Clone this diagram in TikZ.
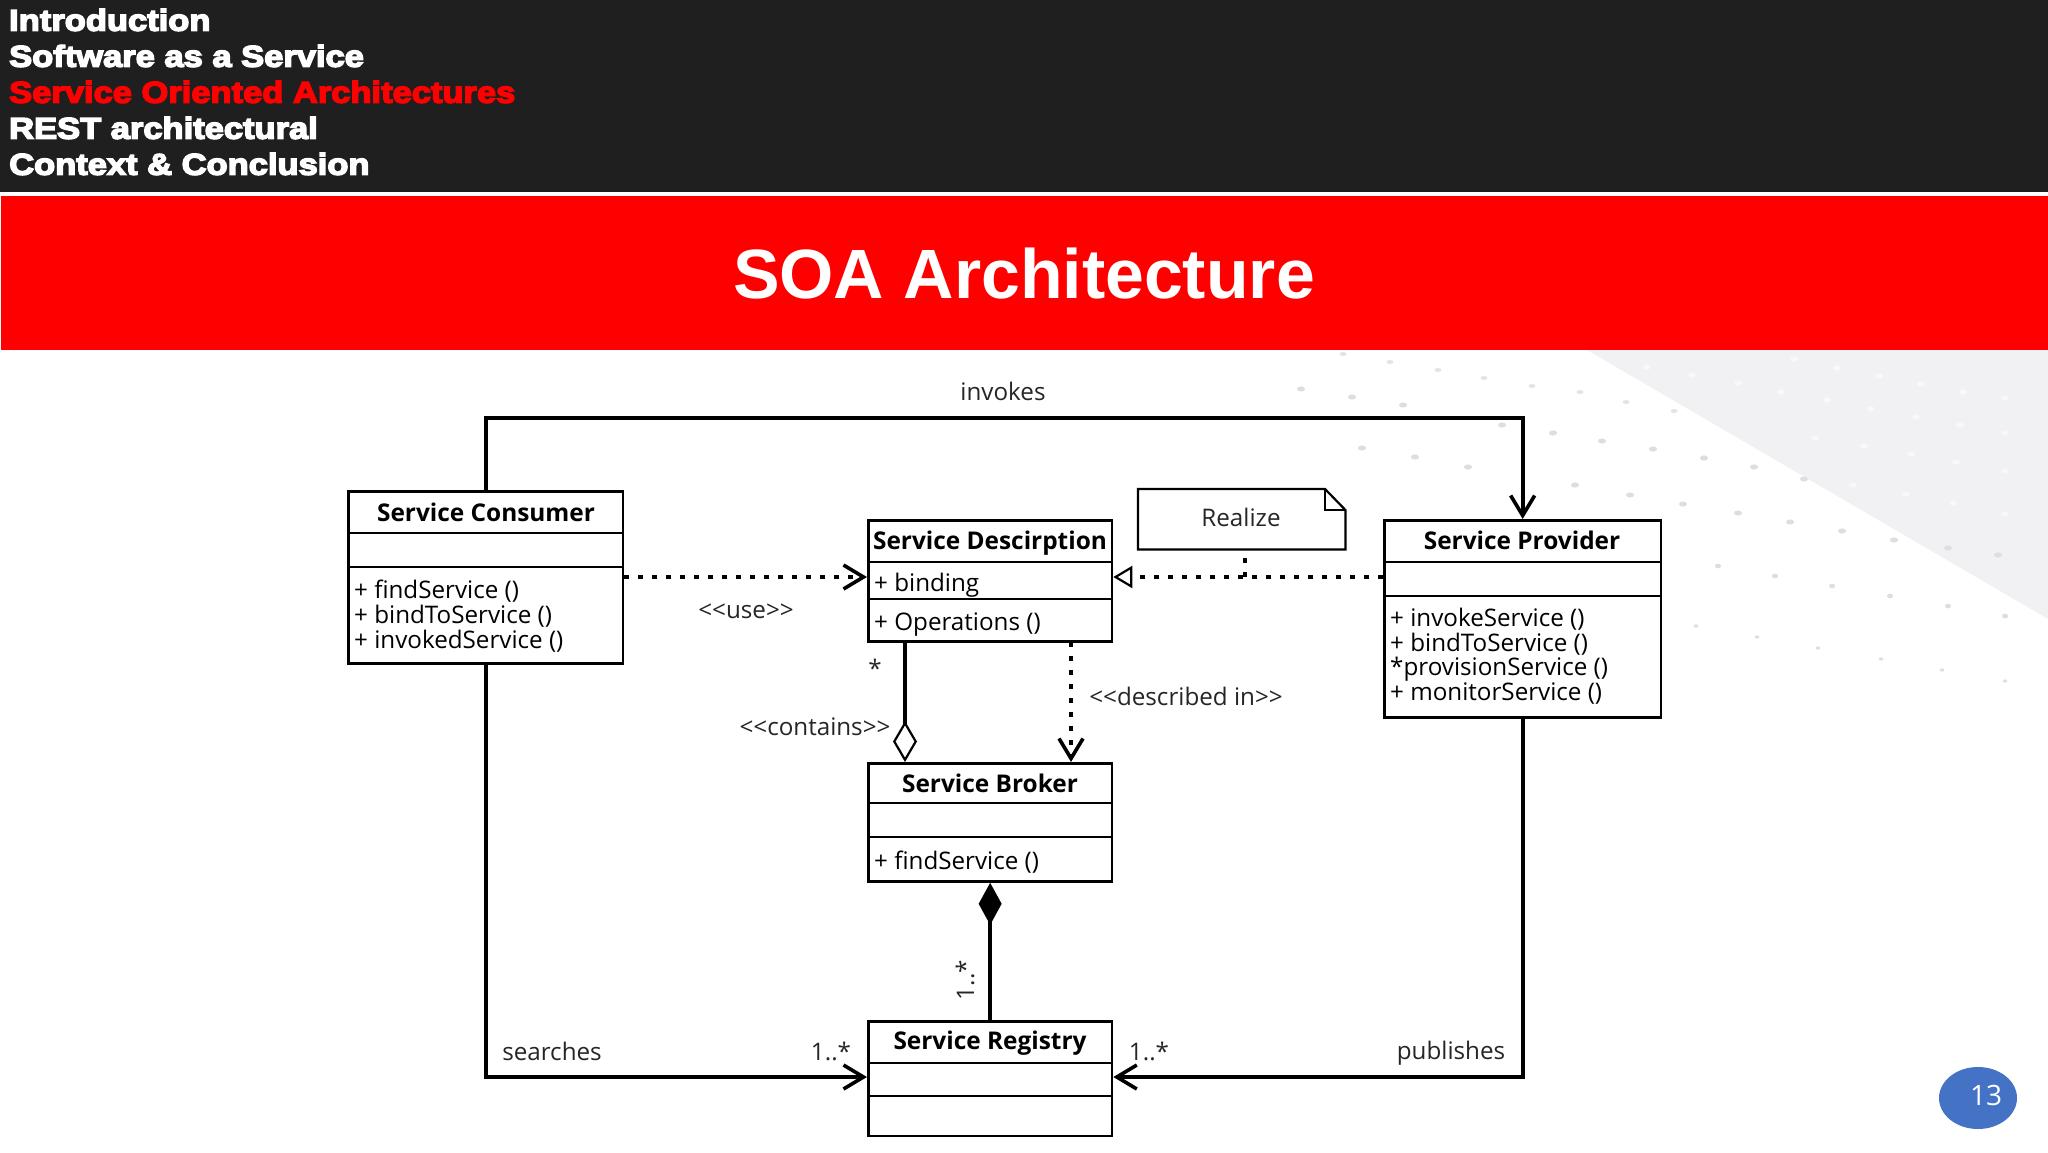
\documentclass[tikz,border=0pt]{standalone}
\usepackage{fontspec}
\setmainfont{Open Sans}
\newfontfamily\hdrfont[UprightFont=* Bold,FakeBold=5,FakeStretch=1.15]{Liberation Sans}
\newfontfamily\ttlfont[UprightFont=* Bold]{Liberation Sans}
\usetikzlibrary{arrows.meta,shapes.geometric}
\definecolor{hdrbg}{HTML}{1F1F1F}
\definecolor{tri}{HTML}{F1F1F4}
\definecolor{dotA}{HTML}{E4E4E6}
\definecolor{dotB}{HTML}{DEDEE1}
\definecolor{dotW}{HTML}{F8F8FA}
\definecolor{pagebadge}{HTML}{4472C4}
\tikzset{
  x=1pt,y=-1pt,
  umlbox/.style={draw=black,line width=2.8pt,fill=white,rectangle,inner sep=0pt,anchor=north west},
  divider/.style={draw=black,line width=2pt},
  title/.style={font=\fontsize{24.4}{28}\selectfont\bfseries,inner sep=0pt},
  member/.style={font=\fontsize{24.2}{26}\selectfont,inner sep=0pt,anchor=west},
  lbl/.style={font=\fontsize{24.2}{28}\selectfont,inner sep=0pt,text=black!85},
  hdr/.style={font=\fontsize{30}{32}\hdrfont,inner sep=0pt,anchor=west,text=white},
  assoc/.style={draw=black,line width=4pt},
  thin assoc/.style={draw=black,line width=3.6pt},
  dots/.style={draw=black,line width=4pt,dash pattern=on 5pt off 9pt},
  barb/.style={-{Straight Barb[length=20pt,width=24pt,line width=3.6pt]}},
}
\newcommand{\umlbox}[7]{% name x y w h div1 div2
  \node[umlbox,minimum width=#4 pt,minimum height=#5 pt] (#1) at (#2,#3) {};
  \draw[divider] (#2,#6) -- (#2+#4,#6);
  \draw[divider] (#2,#7) -- (#2+#4,#7);
}
\begin{document}
\begin{tikzpicture}
\useasboundingbox (0,0) rectangle (2048,1152);
\fill[white] (0,0) rectangle (2048,1152);
% decorative background
\fill[tri] (1587,350) -- (2048,619) -- (2048,350) -- cycle;
\foreach \x/\y in {1343/354,1390/362,1438/370,1484/378,1532/386,1580/392,1626/402,1674/411}
  \fill[dotA] (\x,\y) ellipse (3.5 and 2);
\foreach \x/\y in {1301/389,1352/397,1403/405,1502/425,1553/433,1602/441,1653/449,1704/458,1754/467,1804/479}
  \fill[dotB] (\x,\y) ellipse (4 and 2.6);
\foreach \x/\y in {1362/448,1415/457,1468/467,1575/485,1630/495,1683/504,1738/513,1790/522,1842/531,1894/540,1948/548,1998/555}
  \fill[dotB] (\x,\y) ellipse (4 and 2.6);
\foreach \x/\y in {1718/566,1775/576,1832/586,1890/596,1948/606,2005/616}
  \fill[dotB] (\x,\y) ellipse (3 and 2.4);
\foreach \x/\y in {1696/626,1757/637,1818/648,1881/659,1942/670,2005/681}
  \fill[dotB] (\x,\y) ellipse (2.4 and 1.6);
\foreach \x/\y in {1647/367,1692/375,1738/383,1781/392,1827/400,1871/409,1916/417,1960/425,2005/433,
  1794/359,1837/368,1879/376,1921/384,1963/392,2005/398,
  1815/438,1864/446,1911/454,1956/462,2005/471,
  1853/485,1906/494,1953/503,2005/514}
  \fill[dotW] (\x,\y) ellipse (4 and 2.6);
% header
\fill[hdrbg] (0,0) rectangle (2048,192);
\fill[white] (0,192) rectangle (2048,196);
\fill[red] (1,196) rectangle (2048,350);
\node[hdr] (h1) at (9,20) {Introduction};
\node[hdr] (h2) at (9,56) {Software as a Service};
\node[hdr,text=red] (h3) at (9,92) {Service Oriented Architectures};
\node[hdr] (h4) at (9,128) {REST architectural};
\node[hdr] (h5) at (9,164) {Context \& Conclusion};
\node[font=\fontsize{69.8}{76}\ttlfont,text=white,inner sep=0pt] (slidetitle) at (1024,274) {SOA Architecture};
% boxes
\umlbox{cons}{347}{490}{274.5}{172}{533}{567}
\umlbox{desc}{867}{519}{243.5}{121}{562}{599}
\umlbox{brok}{867}{762}{243.5}{118}{803}{837}
\umlbox{regi}{867}{1020}{243.5}{114.5}{1063}{1096}
\umlbox{prov}{1383}{519}{276.5}{197}{562}{596}
% note
\node[inner sep=0pt,minimum width=207pt,minimum height=60pt,anchor=north west] (note) at (1138,489) {};
\draw[draw=black,line width=2.2pt,line join=miter] (note.north west) -- (1325,489) -- (note.east |- 0,510) -- (note.south east) -- (note.south west) -- cycle;
\draw[draw=black,line width=2.2pt] (1325,489) -- (1325,510) -- (note.east |- 0,510);
% titles
\node[title] (tcons) at (486,512) {Service Consumer};
\node[title] (tdesc) at (990,543) {Service Descirption};
\node[title] (tbrok) at (990,783) {Service Broker};
\node[title] (tregi) at (990,1043) {Service Registry};
\node[title] (tprov) at (1522,540) {Service Provider};
% members
\node[member] (m1) at (354,591) {+ findService ()};
\node[member] (m2) at (354,616) {+ bindToService ()};
\node[member] (m3) at (354,641) {+ invokedService ()};
\node[member] (m4) at (874,585) {+ binding};
\node[member] (m5) at (874,625) {+ Operations ()};
\node[member] (m6) at (874,862) {+ findService ()};
\node[member] (m7) at (1390,619) {+ invokeService ()};
\node[member] (m8) at (1390,644) {+ bindToService ()};
\node[member] (m9) at (1390,669) {*provisionService ()};
\node[member] (m10) at (1390,694) {+ monitorService ()};
% connectors
\draw[assoc,barb,line join=miter] (cons.north) -- (cons.north |- 0,418) -- (prov.north |- 0,418) -- (prov.north);
\draw[assoc,barb,line join=miter] (cons.south) -- (cons.south |- 0,1077) -- (regi.west |- 0,1077);
\draw[assoc,barb,line join=miter] (prov.south) -- (prov.south |- 0,1077) -- (regi.east |- 0,1077);
\coordinate (usestart) at (cons.east |- 0,577);
\coordinate (useend) at (desc.west |- 0,577);
\draw[dots,barb] (usestart) -- (useend);
\coordinate (realstart) at (prov.west |- 0,577);
\coordinate (realend) at (desc.east |- 0,577);
\draw[dots,-{Triangle[open,length=19pt,width=22pt,line width=2.2pt,fill=white]}] (realstart) -- (realend);
\coordinate (notefoot) at (1245,577);
\draw[dots] (note.south -| notefoot) ++(0,9) -- (notefoot);
\coordinate (cont1) at (905,642);
\coordinate (cont2) at (905,762);
\draw[thin assoc,-{Diamond[open,length=41pt,width=24pt,line width=2.2pt,fill=white]}] (cont1) -- (cont2);
\coordinate (desc1) at (1071,642);
\coordinate (desc2) at (1071,762);
\draw[dots,barb] (desc1) -- (desc2);
\draw[thin assoc,{Diamond[length=42pt,width=23pt]}-] (brok.south) -- (regi.north);
% labels
\node[lbl] (linv) at (1003,391) {invokes};
\node[lbl] (luse) at (746,611) {<{}<use>{}>};
\node[lbl] (lcon) at (815,727) {<{}<contains>{}>};
\node[lbl] (ldes) at (1186,696) {<{}<described in>{}>};
\node[lbl] (lrea) at (1241,517) {Realize};
\node[lbl] (lsta) at (875,668) {*};
\node[lbl] (lsea) at (552,1051) {searches};
\node[lbl] (lpub) at (1451,1053) {publishes};
\node[lbl] (l1a) at (831,1051) {1..*};
\node[lbl] (l1b) at (1149,1051) {1..*};
\node[lbl,rotate=90] (l1c) at (965,980) {1..*};
% page badge
\node[ellipse,fill=pagebadge,minimum width=78pt,minimum height=62pt,inner sep=0pt] (badge) at (1978,1098) {};
\node[font=\fontsize{28}{32}\selectfont,text=white,inner sep=0pt] (pnum) at (1986,1095) {13};
\end{tikzpicture}
\end{document}
